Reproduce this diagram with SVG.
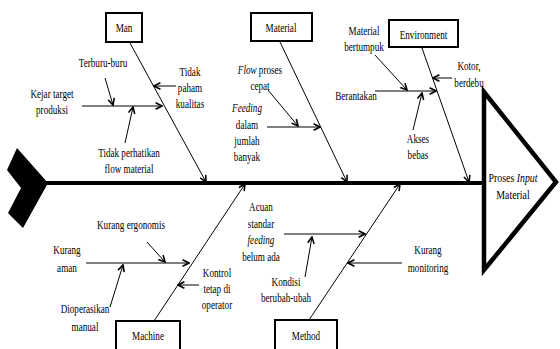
<svg xmlns="http://www.w3.org/2000/svg" width="560" height="349" viewBox="0 0 560 349">
<style>
.t{font-family:"Liberation Serif","Times New Roman",serif;font-size:12.5px;fill:#000;text-anchor:middle}
.h{font-size:13.5px}
.i{font-style:italic}
.box{fill:#fff;stroke:#000;stroke-width:2}
.ln{fill:none;stroke:#000;stroke-width:1}
.ar{fill:none;stroke:#000;stroke-width:1;marker-end:url(#ah)}
</style>
<defs>
<marker id="ah" viewBox="0 0 10 10" refX="9" refY="5" markerWidth="8" markerHeight="8" markerUnits="userSpaceOnUse" orient="auto">
<path d="M1,1 L9,5 L1,9" fill="none" stroke="#000" stroke-width="2"/>
</marker>
</defs>
<rect width="560" height="349" fill="#fff"/>
<g id="connectors">
<line x1="46" y1="183" x2="484" y2="183" stroke="#000" stroke-width="4"/>
<path class="ar" d="M130,43 L206,182"/>
<path class="ar" d="M280,42 L347,182"/>
<path class="ar" d="M422,48 L469,182"/>
<path class="ar" d="M154,321 L245,184"/>
<path class="ar" d="M309,320 L400,184"/>
<path class="ar" d="M82,106 L162,106"/>
<path class="ar" d="M105,78 L113,105"/>
<path class="ar" d="M125,143 L133,107"/>
<path class="ar" d="M176,86 L154,86"/>
<path class="ar" d="M268,90 L298,126"/>
<path class="ar" d="M267,127 L320,127"/>
<path class="ar" d="M375,55 L407,90"/>
<path class="ar" d="M375,91 L436,91"/>
<path class="ar" d="M413,130 L422,93"/>
<path class="ar" d="M452,78 L433,78"/>
<path class="ar" d="M147,242 L165,262"/>
<path class="ar" d="M86,263 L189,263"/>
<path class="ar" d="M110,307 L123,265"/>
<path class="ar" d="M199,285 L178,285"/>
<path class="ar" d="M284,234 L365,234"/>
<path class="ar" d="M305,277 L312,237"/>
<path class="ar" d="M402,263 L348,263"/>
</g>
<g id="tail">
<polygon points="17,148 48,183 23,228 8,213 21,188 7,170" fill="#000"/>
</g>
<g id="effect">
<polygon points="484,92 556,182 484,270" fill="#fff" stroke="#000" stroke-width="4.5"/>
<text class="t h" transform="translate(513,182) scale(0.73,1)"><tspan x="0">Proses <tspan class="i">Input</tspan></tspan><tspan x="0" y="17">Material</tspan></text>
</g>
<g id="man">
<rect class="box" x="106" y="13" width="36" height="29"/>
<text class="t" transform="translate(124,32) scale(0.73,1)">Man</text>
</g>
<g id="material">
<rect class="box" x="251" y="13" width="61" height="28"/>
<text class="t" transform="translate(281,32) scale(0.73,1)">Material</text>
</g>
<g id="environment">
<rect class="box" x="389" y="20" width="69" height="27"/>
<text class="t" transform="translate(423.5,39) scale(0.73,1)">Environment</text>
</g>
<g id="machine">
<rect class="box" x="116" y="321" width="64" height="32"/>
<text class="t" transform="translate(148,340) scale(0.73,1)">Machine</text>
</g>
<g id="method">
<rect class="box" x="275" y="320" width="62" height="33"/>
<text class="t" transform="translate(306,340) scale(0.73,1)">Method</text>
</g>
<g id="man-causes">
<text class="t" transform="translate(103,67) scale(0.73,1)">Terburu-buru</text>
<text class="t" transform="translate(52,98) scale(0.73,1)"><tspan x="0">Kejar target</tspan><tspan x="0" y="16">produksi</tspan></text>
<text class="t" transform="translate(129,157) scale(0.73,1)"><tspan x="0">Tidak perhatikan</tspan><tspan x="0" y="16">flow material</tspan></text>
<text class="t" transform="translate(190,76) scale(0.73,1)"><tspan x="0">Tidak</tspan><tspan x="0" y="16">paham</tspan><tspan x="0" y="32">kualitas</tspan></text>
</g>
<g id="material-causes">
<text class="t" transform="translate(260,74) scale(0.73,1)"><tspan x="0"><tspan class="i">Flow</tspan> proses</tspan><tspan x="0" y="16">cepat</tspan></text>
<text class="t" transform="translate(247,112) scale(0.73,1)"><tspan x="0" class="i">Feeding</tspan><tspan x="0" y="17">dalam</tspan><tspan x="0" y="33">jumlah</tspan><tspan x="0" y="49">banyak</tspan></text>
</g>
<g id="environment-causes">
<text class="t" transform="translate(364,35) scale(0.73,1)"><tspan x="0">Material</tspan><tspan x="0" y="16">bertumpuk</tspan></text>
<text class="t" transform="translate(356,100) scale(0.73,1)">Berantakan</text>
<text class="t" transform="translate(418,143) scale(0.73,1)"><tspan x="0">Akses</tspan><tspan x="0" y="16">bebas</tspan></text>
<text class="t" transform="translate(469,70) scale(0.73,1)"><tspan x="0">Kotor,</tspan><tspan x="0" y="17">berdebu</tspan></text>
</g>
<g id="machine-causes">
<text class="t" transform="translate(131,229) scale(0.73,1)">Kurang ergonomis</text>
<text class="t" transform="translate(67,254) scale(0.73,1)"><tspan x="0">Kurang</tspan><tspan x="0" y="18">aman</tspan></text>
<text class="t" transform="translate(85,313) scale(0.73,1)"><tspan x="0">Dioperasikan</tspan><tspan x="0" y="18">manual</tspan></text>
<text class="t" transform="translate(217,277) scale(0.73,1)"><tspan x="0">Kontrol</tspan><tspan x="0" y="16">tetap di</tspan><tspan x="0" y="32">operator</tspan></text>
</g>
<g id="method-causes">
<text class="t" transform="translate(261,211) scale(0.73,1)"><tspan x="0">Acuan</tspan><tspan x="0" y="17">standar</tspan><tspan x="0" y="33" class="i">feeding</tspan><tspan x="0" y="50">belum ada</tspan></text>
<text class="t" transform="translate(286,286) scale(0.73,1)"><tspan x="0">Kondisi</tspan><tspan x="0" y="16">berubah-ubah</tspan></text>
<text class="t" transform="translate(428,254) scale(0.73,1)"><tspan x="0">Kurang</tspan><tspan x="0" y="18">monitoring</tspan></text>
</g>
</svg>
